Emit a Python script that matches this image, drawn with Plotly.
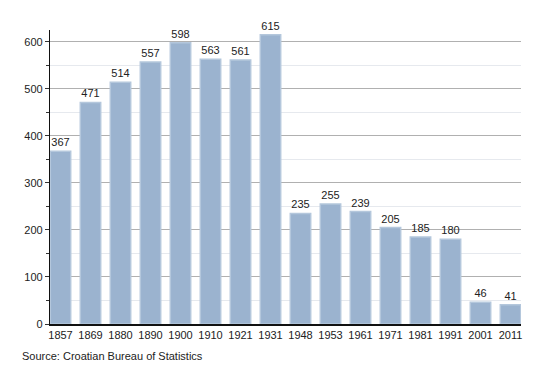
import plotly.graph_objects as go

years = ["1857", "1869", "1880", "1890", "1900", "1910", "1921", "1931",
         "1948", "1953", "1961", "1971", "1981", "1991", "2001", "2011"]
population = [367, 471, 514, 557, 598, 563, 561, 615,
              235, 255, 239, 205, 185, 180, 46, 41]
source_text = "Source: Croatian Bureau of Statistics"

fig = go.Figure()
fig.add_trace(go.Bar(
    x=years, y=population,
    text=[str(v) for v in population],
    textposition="outside",
    textfont=dict(family="Liberation Sans, Arial, sans-serif", size=11, color="#222"),
    cliponaxis=False,
    marker=dict(color="#9bb3cf", line=dict(color="#b4c7dc", width=1.5)),
    width=0.68,
))

fig.update_layout(
    width=542, height=365,
    margin=dict(l=42, r=29, t=22, b=49),
    paper_bgcolor="white", plot_bgcolor="white",
    showlegend=False,
    font=dict(family="Liberation Sans, Arial, sans-serif", size=11, color="#222"),
    xaxis=dict(
        type="category", range=[-0.35, 15.35],
        showline=True, linecolor="#111", linewidth=1.5,
        ticks="", showgrid=False, tickfont=dict(size=11),
    ),
    yaxis=dict(
        range=[0, 625], dtick=100, tick0=0,
        showline=True, linecolor="#111", linewidth=1.2,
        ticks="outside", ticklen=4, tickcolor="#333",
        showgrid=True, gridcolor="#b0b0b0", gridwidth=1,
        minor=dict(dtick=50, showgrid=True, gridcolor="#e6e9ee",
                   ticks="outside", ticklen=3, tickcolor="#333"),
        zeroline=False, tickfont=dict(size=11),
    ),
    bargap=0.32,
)

fig.add_annotation(
    text=source_text, xref="paper", yref="paper",
    x=-0.064, y=-0.109, xanchor="left", yanchor="middle", showarrow=False,
    font=dict(size=11, color="#222"),
)

fig.write_html("out.html")
